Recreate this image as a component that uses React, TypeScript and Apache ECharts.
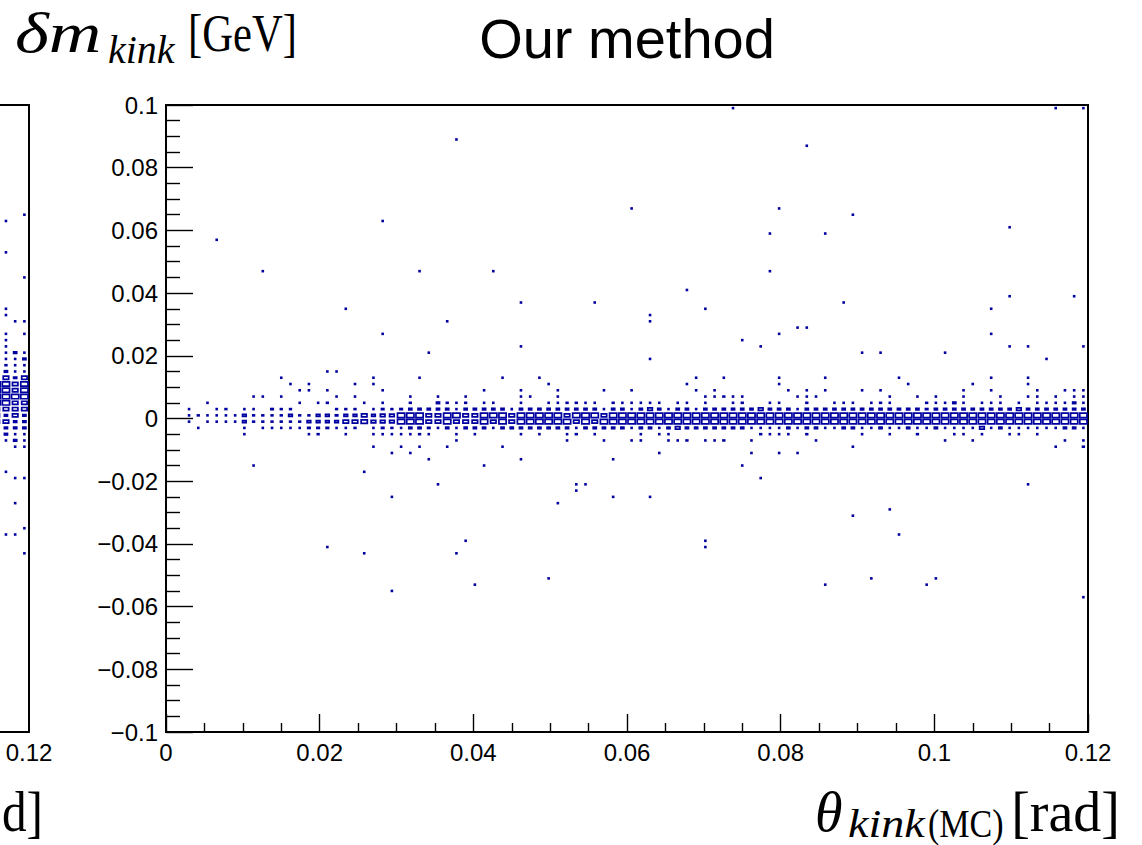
import React, { useEffect, useRef } from "react";
import * as echarts from "echarts";

// ---- histogram binning (TH2 style: 100 x 100 bins) ----
const X_MIN = 0;
const X_MAX = 0.12;
const Y_MIN = -0.1;
const Y_MAX = 0.1;
const BIN_W = 0.0012;
const BIN_H = 0.002;
const Z_MAX = 15;

// Core band: for every theta bin (0..99), counts per dm-row index (row 50 = [0, 0.002))
const bandColumns: Record<number, number>[] = [
  /*0*/ {},
  /*1*/ {},
  /*2*/ { 51: 1, 50: 1, 49: 1 },
  /*3*/ { 50: 2, 48: 1 },
  /*4*/ { 52: 1, 50: 1, 49: 1 },
  /*5*/ { 51: 1, 50: 1, 49: 1 },
  /*6*/ { 51: 2, 50: 1, 49: 1 },
  /*7*/ { 50: 1, 49: 1 },
  /*8*/ { 51: 1, 50: 5, 49: 5, 48: 1, 47: 1 },
  /*9*/ { 53: 1, 51: 1, 50: 2, 49: 2 },
  /*10*/ { 53: 1, 50: 2, 49: 2, 48: 1 },
  /*11*/ { 51: 3, 50: 2, 49: 2, 48: 1 },
  /*12*/ { 56: 1, 53: 1, 51: 2, 50: 2, 49: 2, 48: 1 },
  /*13*/ { 55: 1, 51: 2, 50: 5, 49: 2, 48: 1 },
  /*14*/ { 54: 1, 52: 1, 50: 2, 49: 2, 48: 1 },
  /*15*/ { 55: 1, 54: 1, 50: 2, 49: 5, 48: 3, 47: 1 },
  /*16*/ { 52: 1, 50: 5, 49: 5, 48: 3, 47: 2 },
  /*17*/ { 54: 1, 52: 2, 50: 5, 49: 5, 48: 3 },
  /*18*/ { 53: 1, 51: 2, 50: 3, 49: 5, 48: 1 },
  /*19*/ { 51: 2, 50: 5, 49: 9, 48: 1, 47: 1 },
  /*20*/ { 55: 1, 53: 1, 51: 2, 50: 5, 49: 9, 48: 2 },
  /*21*/ { 52: 1, 50: 9, 49: 11 },
  /*22*/ { 56: 1, 55: 1, 51: 1, 50: 5, 49: 7, 48: 1, 47: 1, 45: 1 },
  /*23*/ { 54: 1, 52: 1, 51: 3, 50: 7, 49: 7, 48: 3, 47: 1 },
  /*24*/ { 51: 2, 50: 7, 49: 7, 48: 2, 47: 1, 44: 1 },
  /*25*/ { 51: 3, 50: 14, 49: 14, 48: 1, 47: 1, 45: 1 },
  /*26*/ { 53: 1, 52: 2, 51: 4, 50: 14, 49: 14, 48: 4, 47: 1, 44: 1 },
  /*27*/ { 56: 1, 51: 4, 50: 14, 49: 14, 48: 4, 47: 2, 45: 1 },
  /*28*/ { 51: 4, 50: 9, 49: 9, 48: 3, 47: 1, 43: 1 },
  /*29*/ { 53: 1, 52: 4, 51: 4, 50: 9, 49: 9, 48: 1 },
  /*30*/ { 52: 2, 51: 4, 50: 14, 49: 14, 48: 4, 45: 1 },
  /*31*/ { 52: 1, 51: 1, 50: 14, 49: 9, 48: 1, 47: 1, 46: 1 },
  /*32*/ { 53: 1, 52: 2, 51: 4, 50: 9, 49: 9, 48: 4 },
  /*33*/ { 51: 4, 50: 9, 49: 9, 48: 4, 47: 1 },
  /*34*/ { 54: 1, 52: 1, 51: 4, 50: 14, 49: 14, 48: 4 },
  /*35*/ { 52: 1, 51: 4, 50: 14, 49: 9, 48: 1 },
  /*36*/ { 56: 1, 51: 4, 50: 14, 49: 14, 48: 4, 45: 1 },
  /*37*/ { 51: 1, 50: 9, 49: 9, 48: 4 },
  /*38*/ { 54: 1, 53: 1, 52: 1, 51: 4, 50: 14, 49: 14, 48: 4, 47: 1, 43: 1 },
  /*39*/ { 53: 1, 51: 4, 50: 14, 49: 14, 48: 4 },
  /*40*/ { 56: 1, 51: 4, 50: 14, 49: 14, 48: 4, 47: 1 },
  /*41*/ { 55: 1, 52: 1, 51: 4, 50: 14, 49: 14, 48: 4 },
  /*42*/ { 54: 1, 53: 1, 52: 1, 51: 4, 50: 14, 49: 14, 48: 4 },
  /*43*/ { 52: 2, 51: 4, 50: 9, 49: 14, 48: 4, 47: 1, 46: 1 },
  /*44*/ { 52: 2, 51: 4, 50: 14, 49: 9, 48: 1, 47: 2 },
  /*45*/ { 52: 1, 51: 4, 50: 20, 49: 20, 48: 4 },
  /*46*/ { 52: 1, 51: 4, 50: 14, 49: 9, 48: 4, 47: 1 },
  /*47*/ { 54: 1, 51: 1, 50: 9, 49: 14, 48: 4, 46: 1 },
  /*48*/ { 52: 2, 51: 4, 50: 14, 49: 14, 48: 4, 43: 1 },
  /*49*/ { 52: 1, 51: 4, 50: 14, 49: 14, 48: 4 },
  /*50*/ { 54: 1, 52: 1, 51: 1, 50: 14, 49: 14, 48: 1, 46: 1 },
  /*51*/ { 52: 1, 51: 4, 50: 14, 49: 14, 48: 4, 47: 1, 46: 1 },
  /*52*/ { 52: 1, 51: 7, 50: 14, 49: 14, 48: 4 },
  /*53*/ { 52: 1, 51: 4, 50: 14, 49: 14, 48: 1, 47: 1, 44: 1 },
  /*54*/ { 51: 1, 50: 14, 49: 14, 48: 4, 47: 1, 46: 1 },
  /*55*/ { 52: 1, 51: 4, 50: 14, 49: 14, 48: 7, 46: 1 },
  /*56*/ { 55: 1, 52: 1, 51: 4, 50: 14, 49: 14, 48: 4, 46: 2 },
  /*57*/ { 56: 1, 54: 1, 51: 1, 50: 14, 49: 14, 48: 4 },
  /*58*/ { 53: 1, 52: 1, 51: 4, 50: 14, 49: 14, 48: 4, 46: 1 },
  /*59*/ { 54: 1, 53: 1, 51: 4, 50: 14, 49: 14, 48: 4, 46: 1 },
  /*60*/ { 56: 1, 53: 2, 51: 4, 50: 14, 49: 14, 48: 4, 46: 2 },
  /*61*/ { 53: 1, 52: 1, 51: 4, 50: 14, 49: 14, 48: 4 },
  /*62*/ { 53: 1, 52: 2, 51: 4, 50: 14, 49: 14, 48: 4 },
  /*63*/ { 51: 4, 50: 14, 49: 14, 48: 1, 46: 1, 44: 1 },
  /*64*/ { 51: 7, 50: 14, 49: 14, 48: 1, 47: 2 },
  /*65*/ { 52: 1, 51: 4, 50: 14, 49: 14, 48: 1, 47: 1 },
  /*66*/ { 56: 1, 55: 1, 52: 1, 51: 4, 50: 14, 49: 14, 48: 1, 47: 1, 44: 1 },
  /*67*/ { 54: 1, 51: 4, 50: 14, 49: 14, 48: 4, 47: 1 },
  /*68*/ { 53: 1, 51: 1, 50: 14, 49: 14, 48: 1, 44: 1 },
  /*69*/ { 54: 1, 53: 1, 52: 2, 51: 4, 50: 14, 49: 14, 48: 4, 47: 2 },
  /*70*/ { 53: 1, 51: 4, 50: 14, 49: 14, 48: 4, 46: 1 },
  /*71*/ { 56: 1, 54: 1, 51: 4, 50: 14, 49: 14, 48: 1 },
  /*72*/ { 52: 1, 51: 4, 50: 14, 49: 14, 48: 1 },
  /*73*/ { 52: 1, 51: 4, 50: 14, 49: 14, 48: 4 },
  /*74*/ { 52: 1, 51: 4, 50: 14, 49: 14, 48: 4, 45: 1 },
  /*75*/ { 54: 1, 51: 4, 50: 14, 49: 14, 48: 1, 47: 1 },
  /*76*/ { 52: 1, 51: 4, 50: 14, 49: 14, 48: 1 },
  /*77*/ { 54: 1, 52: 2, 51: 4, 50: 14, 49: 14, 48: 4 },
  /*78*/ { 53: 1, 52: 1, 51: 4, 50: 14, 49: 14, 48: 1, 47: 1 },
  /*79*/ { 56: 1, 51: 4, 50: 14, 49: 14, 48: 1 },
  /*80*/ { 55: 1, 51: 4, 50: 14, 49: 14, 48: 4 },
  /*81*/ { 53: 1, 51: 4, 50: 14, 49: 14, 48: 1, 47: 2 },
  /*82*/ { 52: 2, 51: 3, 50: 14, 49: 14, 48: 1 },
  /*83*/ { 53: 1, 52: 1, 51: 4, 50: 14, 49: 14, 48: 4 },
  /*84*/ { 52: 1, 51: 4, 50: 14, 49: 14, 48: 1, 46: 1 },
  /*85*/ { 52: 4, 51: 4, 50: 14, 49: 14, 48: 1, 47: 1 },
  /*86*/ { 54: 1, 53: 1, 52: 1, 51: 4, 50: 14, 49: 14, 48: 1, 47: 1 },
  /*87*/ { 55: 1, 51: 4, 50: 14, 49: 14, 48: 1, 46: 1 },
  /*88*/ { 52: 1, 51: 4, 50: 14, 49: 14, 48: 7, 47: 1 },
  /*89*/ { 56: 1, 54: 1, 52: 1, 51: 4, 50: 14, 49: 14, 48: 1 },
  /*90*/ { 53: 1, 52: 1, 51: 4, 50: 14, 49: 14, 48: 4 },
  /*91*/ { 51: 4, 50: 14, 49: 14, 48: 1, 47: 1 },
  /*92*/ { 52: 1, 51: 7, 50: 20, 49: 14, 48: 1, 47: 1 },
  /*93*/ { 56: 1, 55: 1, 53: 1, 51: 4, 50: 14, 49: 14, 48: 1 },
  /*94*/ { 54: 1, 53: 1, 52: 1, 51: 4, 50: 14, 49: 14, 48: 1, 47: 1 },
  /*95*/ { 52: 1, 51: 4, 50: 14, 49: 14, 48: 1 },
  /*96*/ { 53: 1, 52: 1, 51: 4, 50: 14, 49: 14, 48: 1, 45: 1 },
  /*97*/ { 54: 1, 52: 1, 51: 4, 50: 14, 49: 14, 48: 4, 46: 1 },
  /*98*/ { 54: 1, 53: 1, 52: 4, 51: 4, 50: 14, 49: 14, 48: 4 },
  /*99*/ { 54: 1, 53: 1, 52: 1, 51: 4, 50: 14, 49: 14, 48: 1, 46: 1, 45: 2 },
];

// Isolated single entries outside the core band: [theta_kink(MC), delta m_kink]
const outliersAbove: [number, number][] = [
  [0.0741, 0.099], [0.1157, 0.099], [0.1196, 0.099], [0.0379, 0.089], [0.0834, 0.087],
  [0.0281, 0.063], [0.0605, 0.067], [0.0797, 0.067], [0.0894, 0.065], [0.0068, 0.057],
  [0.0785, 0.059], [0.0858, 0.059], [0.1099, 0.061], [0.0125, 0.047], [0.0331, 0.047],
  [0.0426, 0.047], [0.0785, 0.047], [0.0234, 0.035], [0.0462, 0.037], [0.0557, 0.037],
  [0.0678, 0.041], [0.0703, 0.035], [0.0881, 0.037], [0.1099, 0.039], [0.118, 0.039],
  [0.1075, 0.035], [0.0281, 0.027], [0.0367, 0.031], [0.063, 0.033], [0.063, 0.031],
  [0.0797, 0.027], [0.0821, 0.029], [0.0833, 0.029], [0.1074, 0.027], [0.034, 0.021],
  [0.0462, 0.023], [0.063, 0.019], [0.075, 0.025], [0.0773, 0.023], [0.093, 0.021],
  [0.1099, 0.023], [0.1144, 0.019], [0.1194, 0.023], [0.021, 0.015], [0.0222, 0.015],
  [0.09, 0.021], [0.1011, 0.021], [0.1122, 0.023],
];
const outliersBelow: [number, number][] = [
  [0.0115, -0.015], [0.0256, -0.017], [0.0354, -0.021], [0.0411, -0.015], [0.0534, -0.021],
  [0.0534, -0.023], [0.0544, -0.021], [0.058, -0.025], [0.063, -0.025], [0.0751, -0.015],
  [0.0773, -0.019], [0.1122, -0.021], [0.0295, -0.025], [0.051, -0.027], [0.0893, -0.031],
  [0.0941, -0.029], [0.0954, -0.037], [0.0211, -0.041], [0.0256, -0.043], [0.0389, -0.039],
  [0.0379, -0.043], [0.0703, -0.039], [0.0703, -0.041], [0.0402, -0.053], [0.0497, -0.051],
  [0.0294, -0.055], [0.0858, -0.053], [0.0918, -0.051], [0.099, -0.053], [0.1001, -0.051],
  [0.1194, -0.057],
];

// Neighbouring panel (only its right edge is visible): [theta bin, dm row, count]
const leftPanelCells: [number, number, number][] = [
  [96, 55, 14], [96, 54, 14], [96, 53, 14], [96, 52, 14], [96, 51, 9], [96, 50, 9], [96, 49, 9], [96, 48, 4], [96, 47, 4],
  [97, 81, 1], [97, 76, 1], [97, 67, 1], [97, 66, 1], [97, 63, 1], [97, 62, 1], [97, 61, 1], [97, 60, 1], [97, 59, 1],
  [97, 58, 2], [97, 57, 4], [97, 56, 9], [97, 55, 14], [97, 54, 14], [97, 53, 14], [97, 52, 14], [97, 51, 9], [97, 50, 4],
  [97, 49, 9], [97, 48, 4], [97, 47, 4], [97, 46, 1], [97, 41, 1], [97, 31, 1],
  [98, 65, 1], [98, 60, 4], [98, 59, 1], [98, 58, 1], [98, 57, 1], [98, 56, 4], [98, 55, 9], [98, 54, 9], [98, 53, 14],
  [98, 52, 9], [98, 51, 9], [98, 50, 9], [98, 49, 4], [98, 48, 4], [98, 47, 1], [98, 46, 4], [98, 45, 1], [98, 40, 1],
  [98, 36, 1], [98, 31, 1],
  [99, 82, 1], [99, 72, 1], [99, 65, 1], [99, 63, 1], [99, 60, 1], [99, 59, 4], [99, 58, 1], [99, 57, 1], [99, 56, 9],
  [99, 55, 14], [99, 54, 14], [99, 53, 14], [99, 52, 9], [99, 51, 9], [99, 50, 4], [99, 49, 4], [99, 48, 4], [99, 47, 1],
  [99, 46, 1], [99, 45, 1], [99, 40, 1], [99, 32, 1], [99, 28, 1],
];

const TITLE = "Our method";

// Plot geometry (pixels)
const PLOT_LEFT = 166;
const PLOT_TOP = 105;
const PLOT_W = 922;
const PLOT_H = 627;
const LEFT_PANEL_RIGHT = 29;
// visible part of neighbouring panel's theta axis
const LEFT_X_MIN = X_MAX - (LEFT_PANEL_RIGHT / PLOT_W) * (X_MAX - X_MIN);

function binCenterX(i: number) {
  return X_MIN + (i + 0.5) * BIN_W;
}
function binCenterY(j: number) {
  return Y_MIN + (j + 0.5) * BIN_H;
}

function buildMainCells() {
  const acc = new Map<string, number>();
  const add = (i: number, j: number, c: number) => {
    const k = i + "," + j;
    acc.set(k, (acc.get(k) || 0) + c);
  };
  bandColumns.forEach((col, i) => {
    Object.keys(col).forEach((r) => add(i, Number(r), col[Number(r)]));
  });
  [...outliersAbove, ...outliersBelow].forEach(([t, d]) => {
    const i = Math.min(99, Math.floor((t - X_MIN) / BIN_W + 1e-9));
    const j = Math.min(99, Math.floor((d - Y_MIN) / BIN_H + 1e-6));
    add(i, j, 1);
  });
  const out: number[][] = [];
  acc.forEach((c, k) => {
    const [i, j] = k.split(",").map(Number);
    out.push([binCenterX(i), binCenterY(j), c]);
  });
  return out;
}

function buildLeftCells() {
  return leftPanelCells.map(([i, j, c]) => [binCenterX(i), binCenterY(j), c]);
}

const fmt = (v: number) => String(+v.toFixed(4)).replace("-", "\u2212");

const BOX_COLOR = "#0000a0";

function renderBox(params: any, api: any) {
  const c = api.coord([api.value(0), api.value(1)]);
  const sz = api.size([BIN_W, BIN_H]);
  const s = Math.min(1, Math.sqrt(api.value(2) / Z_MAX));
  const lw = 1.7;
  const w = Math.max(sz[0] * s - lw, 0.9);
  const h = Math.max(sz[1] * s - lw, 0.9);
  return {
    type: "rect",
    shape: { x: c[0] - w / 2, y: c[1] - h / 2, width: w, height: h },
    style: { fill: "none", stroke: BOX_COLOR, lineWidth: lw },
  };
}

const LABEL_FONT = "Liberation Sans";
const SERIF = "Liberation Serif";

function axisCommon(tickLen: number, minorLen: number) {
  return {
    axisLine: { show: true, onZero: false, lineStyle: { color: "#000", width: 2 } },
    axisTick: { show: true, inside: true, length: tickLen, lineStyle: { color: "#000", width: 1.4 } },
    minorTick: { show: true, splitNumber: 4, length: minorLen, lineStyle: { color: "#000", width: 1.4 } },
    splitLine: { show: false },
    minorSplitLine: { show: false },
  };
}

const labelStyle = { fontSize: 24, color: "#000", fontFamily: LABEL_FONT, margin: 8, formatter: fmt };

function textEl(text: string, x: number, y: number, font: string, align = "left", scaleX = 1) {
  return {
    type: "text",
    x,
    y,
    scaleX,
    silent: true,
    style: {
      text,
      font,
      fill: "#000",
      align,
      textAlign: align,
      verticalAlign: "middle",
      textVerticalAlign: "middle",
    },
  };
}

const plainFrameAxis = {
  axisLine: { show: true, onZero: false, lineStyle: { color: "#000", width: 2 } },
  axisTick: { show: false },
  axisLabel: { show: false },
  splitLine: { show: false },
};

export default function App() {
  const ref = useRef<HTMLDivElement>(null);
  useEffect(() => {
    if (!ref.current) return;
    const chart = echarts.init(ref.current, undefined, { renderer: "svg" });
    const mainCells = buildMainCells();
    const leftCells = buildLeftCells();
    chart.setOption({
      animation: false,
      backgroundColor: "#fff",
      grid: [
        { left: PLOT_LEFT, top: PLOT_TOP, width: PLOT_W, height: PLOT_H, show: true, borderColor: "#000", borderWidth: 2 },
        { left: 0, top: PLOT_TOP, width: LEFT_PANEL_RIGHT, height: PLOT_H, show: false },
      ],
      xAxis: [
        {
          type: "value",
          gridIndex: 0,
          min: X_MIN,
          max: X_MAX,
          interval: 0.02,
          ...axisCommon(18, 9),
          axisLabel: labelStyle,
        },
        {
          type: "value",
          gridIndex: 1,
          position: "bottom",
          min: LEFT_X_MIN,
          max: X_MAX,
          ...plainFrameAxis,
          axisLabel: {
            ...labelStyle,
            showMinLabel: false,
            showMaxLabel: true,
            formatter: (v: number) => (Math.abs(v - X_MAX) < 1e-7 ? fmt(X_MAX) : ""),
          },
        },
        {
          type: "value",
          gridIndex: 1,
          position: "top",
          min: LEFT_X_MIN,
          max: X_MAX,
          ...plainFrameAxis,
        },
      ],
      yAxis: [
        {
          type: "value",
          gridIndex: 0,
          min: Y_MIN,
          max: Y_MAX,
          interval: 0.02,
          ...axisCommon(27, 14),
          axisLabel: labelStyle,
        },
        {
          type: "value",
          gridIndex: 1,
          position: "right",
          min: Y_MIN,
          max: Y_MAX,
          ...plainFrameAxis,
        },
      ],
      series: [
        {
          type: "custom",
          xAxisIndex: 0,
          yAxisIndex: 0,
          renderItem: renderBox,
          encode: { x: 0, y: 1 },
          data: mainCells,
          clip: true,
          silent: true,
        },
        {
          type: "custom",
          xAxisIndex: 1,
          yAxisIndex: 1,
          renderItem: renderBox,
          encode: { x: 0, y: 1 },
          data: leftCells,
          clip: true,
          silent: true,
        },
      ],
      graphic: [
        textEl(TITLE, 627, 38, `56px "${LABEL_FONT}"`, "center"),
        textEl("\u03b4m", 15, 33, `italic 56px "${SERIF}"`, "left", 1.3),
        textEl("kink", 108, 49, `italic 40px "${SERIF}"`),
        textEl("[GeV]", 188, 34, `52px "${SERIF}"`, "left", 0.82),
        textEl("\u03b8", 815, 812, `italic 56px "${SERIF}"`),
        textEl("kink", 848, 824, `italic 40px "${SERIF}"`, "left", 1.15),
        textEl("(MC)", 928, 824, `40px "${SERIF}"`, "left", 0.85),
        textEl("[rad]", 1120, 812, `56px "${SERIF}"`, "right"),
        textEl("d]", 43, 812, `56px "${SERIF}"`, "right", 0.88),
      ],
    });
    return () => chart.dispose();
  }, []);
  return <div ref={ref} style={{ position: "absolute", left: 0, top: 0, width: 1142, height: 845 }} />;
}
